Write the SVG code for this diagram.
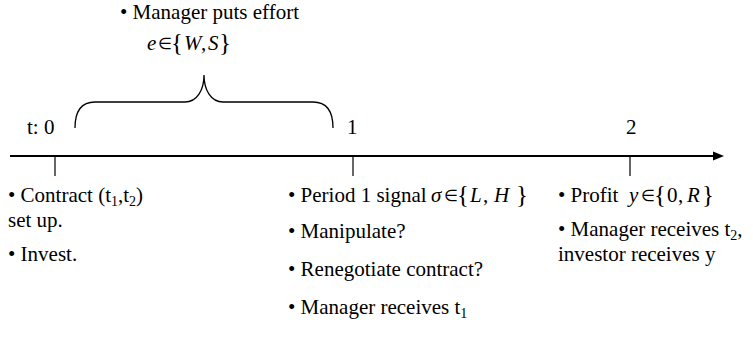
<svg xmlns="http://www.w3.org/2000/svg" width="753" height="338" viewBox="0 0 753 338">
  <defs>
    <marker id="arrow" markerUnits="userSpaceOnUse" markerWidth="12" markerHeight="10" refX="1" refY="5" orient="auto">
      <path d="M0,0.5 L11,5 L0,9.5 z" fill="#000"/>
    </marker>
  </defs>
  <style>
    text { font-family: "Liberation Serif", "Times New Roman", serif; font-size: 21px; fill: #000; }
    .m { font-style: italic; }
    .sym { font-style: normal; font-size: 16px; }
    .cm { font-style: normal; }
    .br { font-size: 25px; font-style: normal; }
    .sub { font-size: 14px; }
    .tick { stroke: #000; stroke-width: 1.2; fill: none; }
    .axis { stroke: #000; stroke-width: 2; fill: none; }
    .brace { stroke: #000; stroke-width: 1.3; fill: none; }
  </style>
  <rect width="753" height="338" fill="#fff"/>

  <g id="connectors">
    <line class="axis" x1="10" y1="156" x2="714" y2="156" marker-end="url(#arrow)"/>
    <line class="tick" x1="55" y1="156" x2="55" y2="176"/>
    <line class="tick" x1="353" y1="156" x2="353" y2="176"/>
    <line class="tick" x1="630" y1="156" x2="630" y2="176"/>
    <path class="brace" d="M75,128 C75,111 82,102 95,102 L185,102 C197,102 204,90 204,75 C204,90 211,102 223,102 L313,102 C326,102 333,111 333,128"/>
  </g>

  <g id="effort">
    <text x="120" y="19">• Manager puts effort</text>
    <text y="50"><tspan class="m" x="147">e</tspan><tspan class="sym" x="158" y="49">∈</tspan><tspan class="br" x="171" y="51">{</tspan><tspan class="m" x="184" y="50">W</tspan><tspan class="cm" x="201">,</tspan><tspan class="m" x="208">S</tspan><tspan class="br" x="219" y="51">}</tspan></text>
  </g>

  <g id="t0">
    <text x="27" y="134">t: 0</text>
    <text x="8" y="202">• Contract (t<tspan class="sub" dy="4">1</tspan><tspan dy="-4">,t</tspan><tspan class="sub" dy="4">2</tspan><tspan dy="-4">)</tspan></text>
    <text x="8" y="227">set up.</text>
    <text x="8" y="261">• Invest.</text>
  </g>

  <g id="t1">
    <text x="347" y="134">1</text>
    <text x="288" y="202">• Period 1 signal<tspan class="m" x="431">σ</tspan><tspan class="sym" x="444" y="201">∈</tspan><tspan class="br" x="457" y="203">{</tspan><tspan class="m" x="470" y="202">L</tspan><tspan class="cm" x="483">,</tspan><tspan class="m" x="494">H</tspan><tspan class="br" x="516" y="203">}</tspan></text>
    <text x="288" y="238">• Manipulate?</text>
    <text x="288" y="276">• Renegotiate contract?</text>
    <text x="288" y="314">• Manager receives t<tspan class="sub" dy="4">1</tspan></text>
  </g>

  <g id="t2">
    <text x="626" y="134">2</text>
    <text x="558" y="202">• Profit<tspan class="m" x="629">y</tspan><tspan class="sym" x="641" y="201">∈</tspan><tspan class="br" x="654" y="203">{</tspan><tspan x="667" y="202">0</tspan><tspan class="cm" x="678">,</tspan><tspan class="m" x="687">R</tspan><tspan class="br" x="702" y="203">}</tspan></text>
    <text x="558" y="236">• Manager receives t<tspan class="sub" dy="4">2</tspan><tspan dy="-4">,</tspan></text>
    <text x="558" y="261">investor receives y</text>
  </g>
</svg>
